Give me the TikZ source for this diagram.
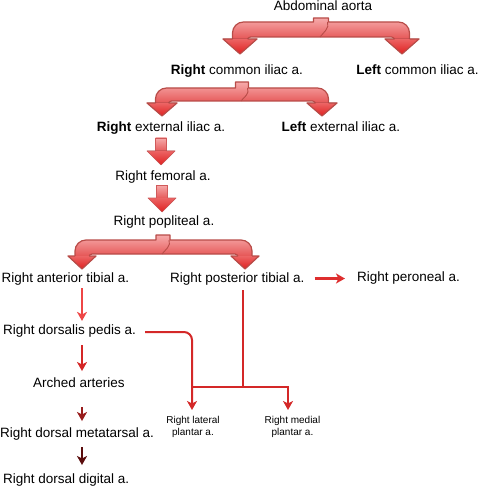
\documentclass[tikz,border=0pt]{standalone}
\usepackage{fontspec}
\setmainfont{Liberation Sans}
\usetikzlibrary{arrows.meta}
\definecolor{fatline}{HTML}{B84C48}
\definecolor{bandtop}{HTML}{F6AAAA}
\definecolor{bandbot}{HTML}{E44E4E}
\definecolor{headtop}{HTML}{EC6464}
\definecolor{headbot}{HTML}{DF2020}
\definecolor{shaftline}{HTML}{D05A5A}
\definecolor{ca}{HTML}{EE4646}
\definecolor{cb}{HTML}{D42626}
\definecolor{cc}{HTML}{981C1C}
\definecolor{cd}{HTML}{5A0C0C}
\definecolor{cplant}{HTML}{D42828}
\definecolor{cper}{HTML}{DE2E2E}
\newcommand{\fatbranch}[9]{%
 \pgfmathsetmacro\fbw{(#4-#3)/2}%
 \pgfmathsetmacro\fbe{#7+2}%
 \path[bandstyle] ({#1-\fbw},#2) -- ({#1+\fbw},#2) -- ({#1+\fbw},#3) -- ({#6+\fbw-11},#3)
   .. controls ({#6+\fbw-4.93},#3) and ({#6+\fbw},{#3+4.93}) .. ({#6+\fbw},{#3+11})
   -- ({#6+\fbw},\fbe) -- ({#6-\fbw},\fbe) -- ({#6-\fbw},{#4+3})
   .. controls ({#6-\fbw},{#4+1.34}) and ({#6-\fbw-1.34},#4) .. ({#6-\fbw-3},#4)
   -- ({#5+\fbw+3},#4)
   .. controls ({#5+\fbw+1.34},#4) and ({#5+\fbw},{#4+1.34}) .. ({#5+\fbw},{#4+3})
   -- ({#5+\fbw},\fbe) -- ({#5-\fbw},\fbe) -- ({#5-\fbw},{#3+11})
   .. controls ({#5-\fbw},{#3+4.93}) and ({#5-\fbw+4.93},#3) .. ({#5-\fbw+11},#3)
   -- ({#1-\fbw},#3) -- cycle;
 \draw[fatline, line width=0.9pt] ({#1+\fbw-1},#3) .. controls ({#1+\fbw+1.5},{#3+6}) and ({#1+2},{#4-4}) .. ({#1-1},#4);
 \fathead{#5}{#7}{#8}{#9}{\fbw}{fatline}{1.2pt}%
 \fathead{#6}{#7}{#8}{#9}{\fbw}{fatline}{1.2pt}%
}
\newcommand{\fathead}[7]{%
 \fill[top color=headtop, bottom color=headbot] ({#1-#4},#2) -- ({#1+#4},#2) -- (#1,#3) -- cycle;
 \draw[#6, line width=#7, line join=round] ({#1-#5},#2) -- ({#1-#4},#2) -- (#1,#3) -- ({#1+#4},#2) -- ({#1+#5},#2);
}
\newcommand{\fatstraight}[4]{%
 \path[draw=shaftline, line width=0.7pt, top color=bandtop, bottom color=bandbot] ({#1-5.5},#2) rectangle ({#1+5.5},{#3+2});
 \fathead{#1}{#3}{#4}{14}{5.5}{shaftline}{0.7pt}%
}
\begin{document}
\begin{tikzpicture}[x=1pt,y=-1pt,
  every node/.style={inner sep=0pt, font=\fontsize{13.5}{16}\selectfont},
  small/.style={font=\fontsize{10}{12}\selectfont, align=center},
  bandstyle/.style={draw=fatline, line width=1.2pt, line join=round, top color=bandtop, bottom color=bandbot},
  thinarrow/.style={line width=2pt, -{Stealth[length=9pt,width=10pt,inset=2.5pt]}},
  plantar/.style={cplant, line width=2pt, -{Stealth[length=9pt,width=10pt,inset=2.5pt]}},
  plantarline/.style={cplant, line width=2pt}]
\useasboundingbox (0,0) rectangle (480,486);

% fat arrows
\fatbranch{321}{18}{22}{37}{240}{402}{39}{54}{17}
\fatbranch{242}{82}{88}{101}{162}{322}{103}{116}{15}
\fatbranch{163}{235}{240}{254}{82}{245}{256}{269}{14}
\fatstraight{161}{138}{151}{165}
\fatstraight{162}{185}{198}{212}

% texts
\node[anchor=base] (aorta) at (323,11) {Abdominal aorta};
\node[anchor=base] (rci) at (237,75) {\textbf{Right} common iliac a.};
\node[anchor=base] (lci) at (417.5,75) {\textbf{Left} common iliac a.};
\node[anchor=base] (rei) at (161,132) {\textbf{Right} external iliac a.};
\node[anchor=base] (lei) at (341,132) {\textbf{Left} external iliac a.};
\node[anchor=base] (fem) at (163,180) {Right femoral a.};
\node[anchor=base] (pop) at (164,225) {Right popliteal a.};
\node[anchor=base west] (ant) at (1.5,282) {Right anterior tibial a.};
\node[anchor=base west] (post) at (170,282) {Right posterior tibial a.};
\node[anchor=base west] (per) at (357,281) {Right peroneal a.};
\node[anchor=base west] (dors) at (3,334) {Right dorsalis pedis a.};
\node[anchor=base west] (arch) at (33,387) {Arched arteries};
\node[anchor=base west] (meta) at (0,437) {Right dorsal metatarsal a.};
\node[anchor=base west] (dig) at (3,483) {Right dorsal digital a.};
\node[small, anchor=north] (lat) at (193,415.7) {Right lateral\\plantar a.};
\node[small, anchor=north] (med) at (292.5,415.7) {Right medial\\plantar a.};

% thin arrows, left column
\coordinate (col) at (82,0);
\draw[thinarrow, ca, shorten <=3.2pt, shorten >=3.1pt] (ant.south -| col) -- (dors.north -| col);
\draw[thinarrow, cb, shorten <=8.2pt, shorten >=6pt] (dors.south -| col) -- (arch.north -| col);
\draw[thinarrow, cc, shorten <=20pt, shorten >=6pt] (arch.south -| col) -- (meta.north -| col);
\draw[thinarrow, cd, shorten <=7.2pt, shorten >=8pt] (meta.south -| col) -- (dig.north -| col);

% peroneal
\draw[thinarrow, cper, line width=2.2pt, shorten <=10pt, shorten >=12pt] (post.east) -- (post.east -| per.west);

% plantar
\coordinate (j) at (243,387);
\coordinate (latTip) at (192,410);
\coordinate (medTip) at (288,410);
\draw[plantar, shorten <=5.2pt] (post.south -| j) -- (j) -| (medTip);
\draw[plantarline] (j) -- (j -| latTip);
\draw[plantar, rounded corners=8pt] ([xshift=9pt,yshift=-1.5pt]dors.east) -| (latTip);
\end{tikzpicture}
\end{document}
